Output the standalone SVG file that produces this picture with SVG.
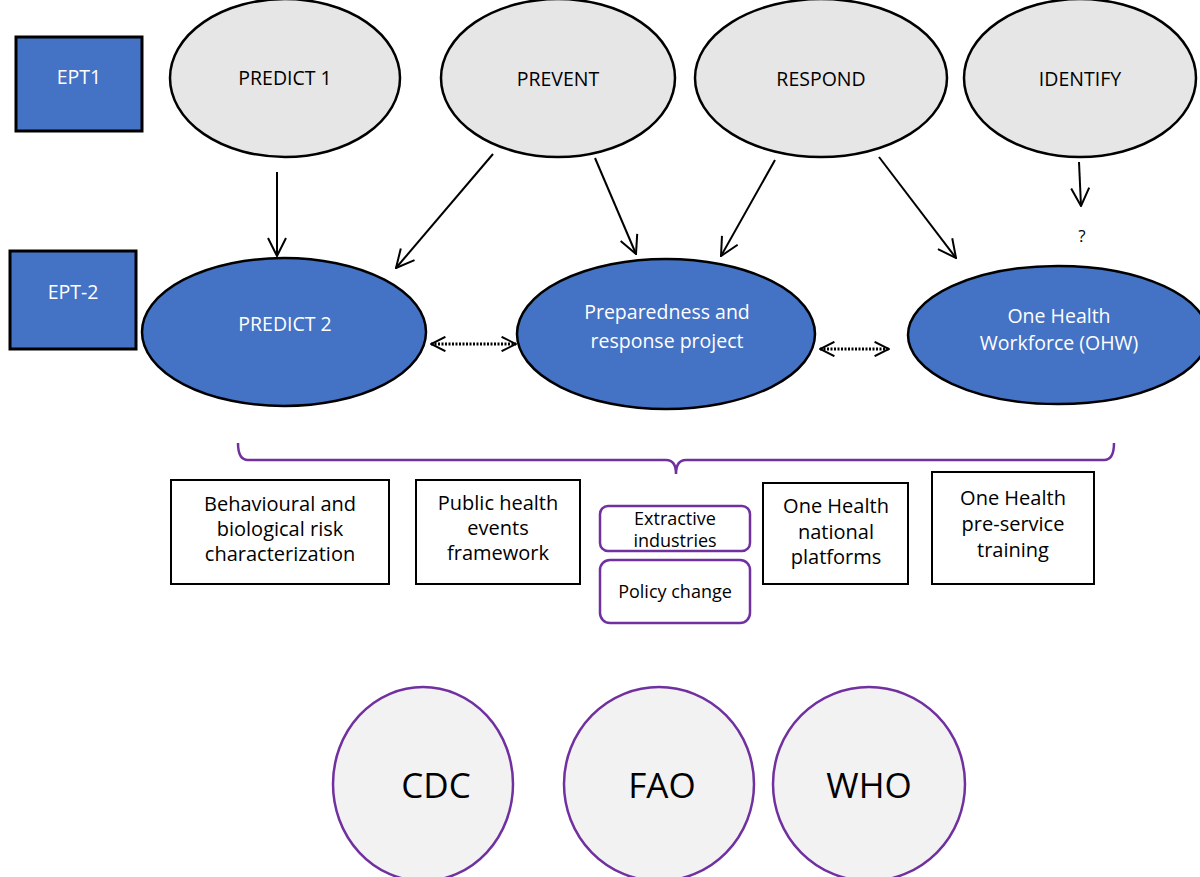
<svg xmlns="http://www.w3.org/2000/svg" width="1200" height="877" viewBox="0 0 1200 877">
<defs>
<style>
text{font-family:"Open Sans","Noto Sans","DejaVu Sans",sans-serif;text-anchor:middle;dominant-baseline:central}
.ept{fill:#4472C4;stroke:#000;stroke-width:3}
.top{fill:#E7E6E6;stroke:#000;stroke-width:2.5}
.blue{fill:#4472C4;stroke:#000;stroke-width:2.5}
.w{fill:#fff;font-size:19.5px}
.k{fill:#000;font-size:19.5px}
.box{fill:#fff;stroke:#000;stroke-width:2}
.pbox{fill:#fff;stroke:#7030A0;stroke-width:2.5}
.bt{fill:#000;font-size:20px}
.st{fill:#000;font-size:18px}
.org{fill:#F2F2F2;stroke:#7030A0;stroke-width:2.5}
.ot{fill:#000;font-size:35px}
.arr{stroke:#000;stroke-width:2;fill:none;marker-end:url(#v)}
.dot{stroke:#000;stroke-width:3;stroke-dasharray:2 1.5;fill:none;marker-start:url(#vs);marker-end:url(#v2)}
</style>
<marker id="v" viewBox="0 0 20 20" refX="19" refY="10" markerWidth="20" markerHeight="20" markerUnits="userSpaceOnUse" orient="auto"><path d="M1,1 L19,10 L1,19" fill="none" stroke="#000" stroke-width="2"/></marker>
<marker id="v2" viewBox="0 0 20 20" refX="19" refY="10" markerWidth="16" markerHeight="16" markerUnits="userSpaceOnUse" orient="auto"><path d="M1,1 L19,10 L1,19" fill="none" stroke="#000" stroke-width="2.5"/></marker>
<marker id="vs" viewBox="0 0 20 20" refX="1" refY="10" markerWidth="16" markerHeight="16" markerUnits="userSpaceOnUse" orient="auto"><path d="M19,1 L1,10 L19,19" fill="none" stroke="#000" stroke-width="2.5"/></marker>
</defs>
<rect width="1200" height="877" fill="#fff"/>

<g id="ept1"><rect class="ept" x="16" y="37" width="126" height="94"/><text class="w" x="79" y="76">EPT1</text></g>
<g id="ept2"><rect class="ept" x="10" y="251" width="126" height="98"/><text class="w" x="73" y="291">EPT-2</text></g>

<g id="predict1"><ellipse class="top" cx="285" cy="78" rx="115" ry="79"/><text class="k" x="285" y="77">PREDICT 1</text></g>
<g id="prevent"><ellipse class="top" cx="558" cy="78" rx="117" ry="79"/><text class="k" x="558" y="78">PREVENT</text></g>
<g id="respond"><ellipse class="top" cx="821" cy="78" rx="126" ry="79"/><text class="k" x="821" y="78">RESPOND</text></g>
<g id="identify"><ellipse class="top" cx="1080" cy="78" rx="116" ry="79"/><text class="k" x="1080" y="78">IDENTIFY</text></g>

<g id="predict2"><ellipse class="blue" cx="284" cy="332" rx="142" ry="74"/><text class="w" x="285" y="323">PREDICT 2</text></g>
<g id="prep"><ellipse class="blue" cx="666" cy="334" rx="149" ry="75"/><text class="w" x="667" y="311">Preparedness and</text><text class="w" x="667" y="340">response project</text></g>
<g id="ohw"><ellipse class="blue" cx="1058" cy="335" rx="150" ry="69"/><text class="w" x="1059" y="315">One Health</text><text class="w" x="1059" y="342">Workforce (OHW)</text></g>

<g id="q"><text x="1082" y="235" style="font-size:17px;fill:#000">?</text></g>

<g id="connectors">
<line class="arr" x1="277" y1="172" x2="277" y2="256"/>
<line class="arr" x1="493" y1="154" x2="396" y2="268"/>
<line class="arr" x1="595" y1="158" x2="636" y2="254"/>
<line class="arr" x1="775" y1="160" x2="721" y2="256"/>
<line class="arr" x1="879" y1="157" x2="956" y2="258"/>
<line class="arr" x1="1079" y1="162" x2="1081" y2="206"/>
<line class="dot" x1="431" y1="344" x2="516" y2="344"/>
<line class="dot" x1="820" y1="349" x2="889" y2="349"/>
<path d="M238,443 Q238,460 248,460 L666,460 Q676,460 676,474 Q676,460 686,460 L1104,460 Q1114,460 1114,443" fill="none" stroke="#7030A0" stroke-width="2.5"/>
</g>

<g id="b1"><rect class="box" x="171" y="480" width="218" height="104"/><text class="bt" x="280" y="503">Behavioural and</text><text class="bt" x="280" y="528">biological risk</text><text class="bt" x="280" y="553">characterization</text></g>
<g id="b2"><rect class="box" x="416" y="480" width="164" height="104"/><text class="bt" x="498" y="502">Public health</text><text class="bt" x="498" y="527">events</text><text class="bt" x="498" y="552">framework</text></g>
<g id="b3"><rect class="pbox" x="600" y="506" width="150" height="45" rx="8"/><text class="st" x="675" y="518">Extractive</text><text class="st" x="675" y="540">industries</text></g>
<g id="b4"><rect class="pbox" x="600" y="560" width="150" height="63" rx="10"/><text class="st" x="675" y="591">Policy change</text></g>
<g id="b5"><rect class="box" x="763" y="483" width="145" height="101"/><text class="bt" x="836" y="505">One Health</text><text class="bt" x="836" y="531">national</text><text class="bt" x="836" y="556">platforms</text></g>
<g id="b6"><rect class="box" x="932" y="472" width="162" height="112"/><text class="bt" x="1013" y="497">One Health</text><text class="bt" x="1013" y="523">pre-service</text><text class="bt" x="1013" y="549">training</text></g>

<g id="cdc"><ellipse class="org" cx="423" cy="784" rx="90" ry="97"/><text class="ot" x="436" y="784">CDC</text></g>
<g id="fao"><ellipse class="org" cx="659" cy="784" rx="95" ry="97"/><text class="ot" x="662" y="784">FAO</text></g>
<g id="who"><ellipse class="org" cx="869" cy="784" rx="96" ry="97"/><text class="ot" x="869" y="784">WHO</text></g>
</svg>
